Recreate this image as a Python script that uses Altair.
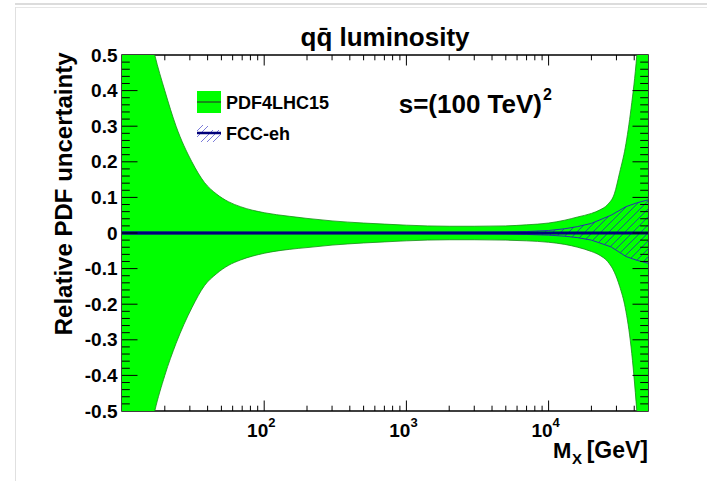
import numpy as np
import pandas as pd
import altair as alt

# ---------------- data ----------------
pdf_mx = [10, 12, 14, 17, 20, 24, 31, 38, 46, 56, 68, 100, 150, 200, 300, 500, 700,
          1000, 2000, 3000, 5000, 7000, 10000, 13000, 16000, 20000, 23000, 26000,
          29000, 31600, 34600, 38000, 41700, 45000, 50000]
pdf_up = [1.05, 0.80, 0.66, 0.50, 0.40, 0.30, 0.20, 0.142, 0.110, 0.088, 0.074,
          0.057, 0.047, 0.041, 0.034, 0.028, 0.025,
          0.022, 0.019, 0.019, 0.020, 0.023,
          0.028, 0.036, 0.045, 0.055, 0.065, 0.080,
          0.11, 0.17, 0.24, 0.35, 0.50, 0.70, 1.00]
pdf_lo = [-1.05, -0.82, -0.67, -0.50, -0.40, -0.31, -0.21, -0.148, -0.115, -0.091, -0.076,
          -0.057, -0.046, -0.041, -0.034, -0.028, -0.025,
          -0.022, -0.019, -0.019, -0.020, -0.022,
          -0.026, -0.032, -0.040, -0.052, -0.063, -0.080,
          -0.11, -0.15, -0.21, -0.32, -0.50, -0.70, -1.00]

fcc_mx = [10, 100, 1000, 3000, 5000, 7000, 10000, 13000, 16000, 20000, 27500, 35000, 42000, 50000]
fcc_up = [0.003, 0.002, 0.002, 0.0025, 0.003, 0.004, 0.007, 0.012, 0.018, 0.027, 0.050, 0.074, 0.085, 0.093]
fcc_lo = [-0.003, -0.002, -0.002, -0.0025, -0.003, -0.004, -0.006, -0.009, -0.013, -0.020, -0.039, -0.066, -0.077, -0.085]

x_major = [100, 1000, 10000]
x_exp = ["2", "3", "4"]
x_minor = [20, 30, 40, 50, 60, 70, 80, 90,
           200, 300, 400, 500, 600, 700, 800, 900,
           2000, 3000, 4000, 5000, 6000, 7000, 8000, 9000,
           20000, 30000, 40000]
y_labels = [0.5, 0.4, 0.3, 0.2, 0.1, 0.0, -0.1, -0.2, -0.3, -0.4, -0.5]
y_major = [0.4, 0.3, 0.2, 0.1, 0.0, -0.1, -0.2, -0.3, -0.4]
y_minor = [0.48, 0.46, 0.44, 0.42, 0.38, 0.36, 0.34, 0.32, 0.28, 0.26, 0.24, 0.22,
           0.18, 0.16, 0.14, 0.12, 0.08, 0.06, 0.04, 0.02,
           -0.02, -0.04, -0.06, -0.08, -0.12, -0.14, -0.16, -0.18,
           -0.22, -0.24, -0.26, -0.28, -0.32, -0.34, -0.36, -0.38,
           -0.42, -0.44, -0.46, -0.48]

title_text = "qq\u0304 luminosity"
legend_labels = ["PDF4LHC15", "FCC-eh"]

# ---------------- layout ----------------
W, H = 526, 356
FONT = "Liberation Sans"
GREEN = "#00ff00"
DKGREEN = "#168c16"
NAVY = "#00007a"
HATCH = "#2a2ab0"

xs_ = alt.Scale(type="log", domain=[10, 50000], nice=False)
ys_ = alt.Scale(domain=[-0.5, 0.5], nice=False, zero=False)

y_axis = alt.Axis(values=y_labels, labelExpr="replace(format(datum.value, '.1~f'), '\u2212', '-')",
                  ticks=False, domain=False, grid=False, labelFont=FONT, labelFontSize=19,
                  labelFontWeight="bold", labelColor="black", labelPadding=5,
                  labelOverlap=False, labelFlush=False,
                  title="Relative PDF uncertainty", titleFont=FONT, titleFontSize=24,
                  titleFontWeight="bold", titleColor="black", titleAngle=270,
                  titleAlign="right", titleBaseline="alphabetic", titleX=-51, titleY=-3)


def X(field):
    return alt.X(field, type="quantitative", scale=xs_, axis=None)


def Y(field):
    return alt.Y(field, type="quantitative", scale=ys_, axis=y_axis)


pdf_df = pd.DataFrame({"mx": pdf_mx, "up": pdf_up, "lo": pdf_lo})
fcc_df = pd.DataFrame({"mx": fcc_mx, "up": fcc_up, "lo": fcc_lo})

band = alt.Chart(pdf_df).mark_area(color=GREEN, clip=True, interpolate="monotone").encode(
    x=X("mx"), y=Y("up"), y2="lo")
band_up = alt.Chart(pdf_df).mark_line(color=DKGREEN, strokeWidth=0.8, clip=True,
                                      interpolate="monotone").encode(x=X("mx"), y=Y("up"))
band_lo = alt.Chart(pdf_df).mark_line(color=DKGREEN, strokeWidth=0.8, clip=True,
                                      interpolate="monotone").encode(x=X("mx"), y=Y("lo"))

# hatching of the FCC-eh band (45 degree lines clipped to the band)
lx0, lx1 = np.log10(10), np.log10(50000)
xpix = np.linspace(0, W, 3000)
lm = lx0 + xpix / W * (lx1 - lx0)
up_px = H * (0.5 - np.interp(lm, np.log10(fcc_mx), fcc_up))
lo_px = H * (0.5 - np.interp(lm, np.log10(fcc_mx), fcc_lo))
rows = []
for c in np.arange(0, W + H + 8, 8.0):
    yl = c - xpix
    inside = (yl >= up_px) & (yl <= lo_px) & ((lo_px - up_px) > 2.5)
    if inside.any():
        idx = np.where(inside)[0]
        xa, xb = xpix[idx[0]], xpix[idx[-1]]
        rows.append({"x1": 10 ** (lx0 + xa / W * (lx1 - lx0)), "y1": 0.5 - (c - xa) / H,
                     "x2": 10 ** (lx0 + xb / W * (lx1 - lx0)), "y2": 0.5 - (c - xb) / H})
hatch_df = pd.DataFrame(rows)
hatch = alt.Chart(hatch_df).mark_rule(color=HATCH, strokeWidth=0.8, clip=True).encode(
    x=X("x1"), x2="x2", y=Y("y1"), y2="y2")
fcc_up_l = alt.Chart(fcc_df).mark_line(color=HATCH, strokeWidth=1, clip=True).encode(x=X("mx"), y=Y("up"))
fcc_lo_l = alt.Chart(fcc_df).mark_line(color=HATCH, strokeWidth=1, clip=True).encode(x=X("mx"), y=Y("lo"))

center = alt.Chart(pd.DataFrame({"v": [0.0]})).mark_rule(color=NAVY, strokeWidth=3).encode(y=Y("v"))


# inward ticks on all four sides
def xticks(vals, length):
    d = pd.DataFrame({"mx": vals})
    b = alt.Chart(d).mark_rule(color="black", strokeWidth=1).encode(
        x=X("mx"), y=alt.value(H), y2=alt.value(H - length))
    t = alt.Chart(d).mark_rule(color="black", strokeWidth=1).encode(
        x=X("mx"), y=alt.value(0), y2=alt.value(length))
    return [b, t]


def yticks(vals, length):
    d = pd.DataFrame({"v": vals})
    l = alt.Chart(d).mark_rule(color="black", strokeWidth=1).encode(
        y=Y("v"), x=alt.value(0), x2=alt.value(length))
    r = alt.Chart(d).mark_rule(color="black", strokeWidth=1).encode(
        y=Y("v"), x=alt.value(W), x2=alt.value(W - length))
    return [l, r]


ticks = xticks(x_major, 10.5) + xticks(x_minor, 5.3) + yticks(y_major, 15.5) + yticks(y_minor, 7.8)

# x tick labels 10^n
xl_df = pd.DataFrame({"mx": x_major, "e": x_exp})
xl_base = alt.Chart(xl_df).mark_text(text="10", align="right", dx=4, baseline="alphabetic",
                                     font=FONT, fontSize=19, fontWeight="bold", color="black").encode(
    x=X("mx"), y=alt.value(382))
xl_sup = alt.Chart(xl_df).mark_text(align="left", dx=4, baseline="alphabetic",
                                    font=FONT, fontSize=13, fontWeight="bold", color="black").encode(
    x=X("mx"), y=alt.value(372), text="e:N")

one = pd.DataFrame({"k": [0]})


def txt(s, x, y, size, align="left"):
    return alt.Chart(one).mark_text(text=s, align=align, baseline="alphabetic", font=FONT,
                                    fontSize=size, fontWeight="bold", color="black").encode(
        x=alt.value(x), y=alt.value(y))


def rect(x1, x2, y1, y2, color):
    return alt.Chart(one).mark_rect(color=color).encode(
        x=alt.value(x1), x2=alt.value(x2), y=alt.value(y1), y2=alt.value(y2))


title = txt(title_text, W / 2, -9, 26, align="center")
xt_m = txt("M", 431, 403, 22)
xt_x = txt("X", 450, 409, 15)
xt_g = txt("[GeV]", 526, 403, 23, align="right")
s_main = txt("s=(100 TeV)", 420, 58, 26, align="right")
s_sup = txt("2", 421, 45, 16)

# legend
leg1_box = rect(75, 99, 36, 58, GREEN)
leg1_line = alt.Chart(one).mark_rule(color=DKGREEN, strokeWidth=2).encode(
    x=alt.value(75), x2=alt.value(99), y=alt.value(47))
leg1_txt = txt(legend_labels[0], 104, 54, 18)
lh = pd.DataFrame({"xa": [75, 75, 79, 85, 91], "ya": [76, 82, 87, 87, 87],
                   "xb": [81, 86, 91, 97, 99], "yb": [70, 71, 75, 75, 79]})
leg2_hatch = alt.Chart(lh).mark_rule(color="#5a5ad0", strokeWidth=0.8).encode(
    x=alt.X("xa:Q", scale=None, axis=None), x2="xb:Q",
    y=alt.Y("ya:Q", scale=None, axis=None), y2="yb:Q")
leg2_line = alt.Chart(one).mark_rule(color=NAVY, strokeWidth=2.5).encode(
    x=alt.value(75), x2=alt.value(99), y=alt.value(78))
leg2_txt = txt(legend_labels[1], 104, 85, 18)

# light page frame of the screenshot
frame = [rect(-107, 585, -52, -50, "#dcdcdc"), rect(-107, 585, -48, -47, "#e6e6e6"),
         rect(-107, -106, -48, 426, "#e0e0e0")]

chart = alt.layer(
    *frame, band, band_up, band_lo, hatch, fcc_up_l, fcc_lo_l, center, *ticks,
    xl_base, xl_sup, title, xt_m, xt_x, xt_g, s_main, s_sup,
    leg1_box, leg1_line, leg1_txt, leg2_hatch, leg2_line, leg2_txt,
).properties(
    width=W, height=H, autosize=alt.AutoSizeParams(type="none"),
    padding={"left": 122, "top": 55, "right": 59, "bottom": 70},
    background="white",
).configure_view(stroke="black", strokeWidth=1.5)

chart.save("out.html", embed_options={"renderer": "svg", "actions": False})
